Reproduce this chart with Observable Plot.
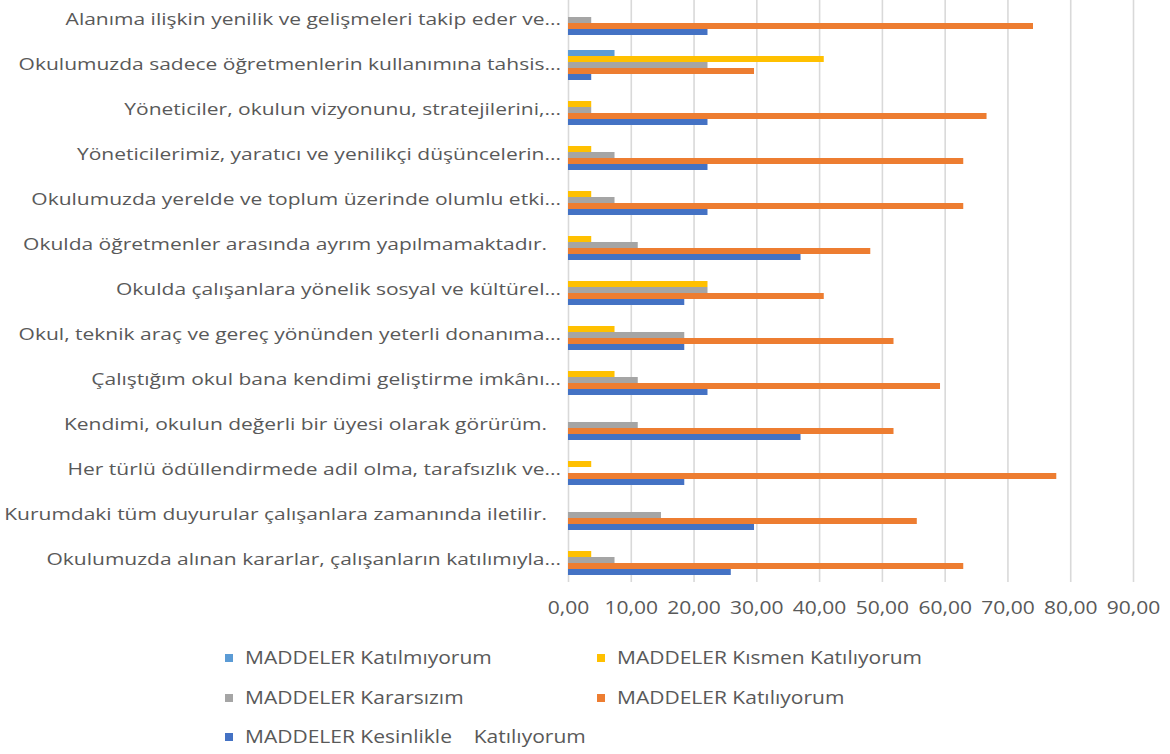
<!DOCTYPE html>
<html>
<head>
<meta charset="utf-8">
<script src="https://cdn.jsdelivr.net/npm/d3@7"></script>
<script src="https://cdn.jsdelivr.net/npm/@observablehq/plot@0.6"></script>
<style>
  html, body { margin: 0; padding: 0; background: #fff; }
  body { width: 1170px; height: 754px; overflow: hidden; font-family: "Open Sans", sans-serif; }
  #chart svg { display: block; margin-top: -5px; }
  #legend { position: relative; height: 120px; margin-top: 10px; color: #595959; font-size: 17.5px; }
  .item { position: absolute; height: 39.5px; line-height: 39.5px; white-space: pre; }
  .sw { display: inline-block; width: 8px; height: 8px; margin-right: 12px; vertical-align: middle; position: relative; top: -1px; }
  .lt { display: inline-block; transform: scaleX(1.2); transform-origin: left center; }
</style>
</head>
<body>
<div id="chart"></div>
<div id="legend"></div>
<script>
const categories = [
  "Alanıma ilişkin yenilik ve gelişmeleri takip eder ve...",
  "Okulumuzda sadece öğretmenlerin kullanımına tahsis...",
  "Yöneticiler, okulun vizyonunu, stratejilerini,...",
  "Yöneticilerimiz, yaratıcı ve yenilikçi düşüncelerin...",
  "Okulumuzda yerelde ve toplum üzerinde olumlu etki...",
  "Okulda öğretmenler arasında ayrım yapılmamaktadır.",
  "Okulda çalışanlara yönelik sosyal ve kültürel...",
  "Okul, teknik araç ve gereç yönünden yeterli donanıma...",
  "Çalıştığım okul bana kendimi geliştirme imkânı...",
  "Kendimi, okulun değerli bir üyesi olarak görürüm.",
  "Her türlü ödüllendirmede adil olma, tarafsızlık ve...",
  "Kurumdaki tüm duyurular çalışanlara zamanında iletilir.",
  "Okulumuzda alınan kararlar, çalışanların katılımıyla..."
];

const seriesNames = [
  "MADDELER Katılmıyorum",
  "MADDELER Kısmen Katılıyorum",
  "MADDELER Kararsızım",
  "MADDELER Katılıyorum",
  "MADDELER Kesinlikle    Katılıyorum"
];

const katilmiyorum       = [0, 7.41, 0, 0, 0, 0, 0, 0, 0, 0, 0, 0, 0];
const kismenKatiliyorum  = [0, 40.74, 3.70, 3.70, 3.70, 3.70, 22.22, 7.41, 7.41, 0, 3.70, 0, 3.70];
const kararsizim         = [3.70, 22.22, 3.70, 7.41, 7.41, 11.11, 22.22, 18.52, 11.11, 11.11, 0, 14.81, 7.41];
const katiliyorum        = [74.07, 29.63, 66.67, 62.96, 62.96, 48.15, 40.74, 51.85, 59.26, 51.85, 77.78, 55.56, 62.96];
const kesinlikle         = [22.22, 3.70, 22.22, 22.22, 22.22, 37.04, 18.52, 18.52, 22.22, 37.04, 18.52, 29.63, 25.93];

const xTicks = [0, 10, 20, 30, 40, 50, 60, 70, 80, 90];
const colors = ["#5B9BD5", "#FFC000", "#A5A5A5", "#ED7D31", "#4472C4"];

const seriesValues = [katilmiyorum, kismenKatiliyorum, kararsizim, katiliyorum, kesinlikle];
const data = [];
categories.forEach((c, i) => {
  seriesNames.forEach((s, j) => {
    data.push({category: c, series: s, value: seriesValues[j][i]});
  });
});

const fmt = d => d.toFixed(2).replace(".", ",");
const textColor = "#595959";

const chart = Plot.plot({
  width: 1170,
  height: 633,
  marginLeft: 568,
  marginRight: 37,
  marginTop: 0,
  marginBottom: 45,
  style: {fontFamily: "'Open Sans', sans-serif", color: textColor, background: "#fff"},
  x: {domain: [0, 90], ticks: xTicks, tickFormat: fmt},
  fy: {domain: categories, padding: 0},
  y: {domain: seriesNames, paddingInner: 0, paddingOuter: 0.92},
  color: {domain: seriesNames, range: colors},
  marks: [
    Plot.gridX(xTicks, {stroke: "#d9d9d9", strokeOpacity: 1, strokeWidth: 1.6}),
    Plot.barX(data, {fy: "category", y: "series", x: "value", fill: "series"}),
    Plot.axisX(xTicks, {tickSize: 0, tickPadding: 19, fontSize: 17.5, fill: textColor, tickFormat: fmt, label: null}),
    Plot.axisY({ticks: [], label: null}),
    Plot.axisFy({anchor: "left", tickSize: 0, tickPadding: 6, fontSize: 17, fill: textColor, label: null})
  ]
});
document.getElementById("chart").appendChild(chart);

// widen the text horizontally like the reference's stretched rendering,
// then right-align the category labels against the axis by measured extent
d3.select(chart).selectAll("text").each(function() {
  const len = this.getComputedTextLength();
  if (len > 0) {
    const txt = this.textContent;
    const isTick = /^\d+,\d\d$/.test(txt);
    this.setAttribute("textLength", (len * (isTick ? 1.2 : 1.235)).toFixed(1));
    this.setAttribute("lengthAdjust", "spacingAndGlyphs");
    if (!isTick) {
      const target = txt.endsWith("...") ? 561 : 547;
      const svgLeft = chart.getBoundingClientRect().left;
      const right = this.getBoundingClientRect().right - svgLeft;
      const shift = target - right;
      const tr = this.getAttribute("transform") || "";
      this.setAttribute("transform", (tr + ` translate(${shift.toFixed(1)},0)`).trim());
    }
  }
});

const legend = document.getElementById("legend");
const positions = [[225, 0], [597, 0], [225, 39.5], [597, 39.5], [225, 79]];
seriesNames.forEach((s, j) => {
  const it = document.createElement("div");
  it.className = "item";
  it.style.left = positions[j][0] + "px";
  it.style.top = positions[j][1] + "px";
  const sw = document.createElement("span");
  sw.className = "sw";
  sw.style.background = colors[j];
  it.appendChild(sw);
  const t = document.createElement("span");
  t.className = "lt";
  t.textContent = s;
  it.appendChild(t);
  legend.appendChild(it);
});
</script>
</body>
</html>
